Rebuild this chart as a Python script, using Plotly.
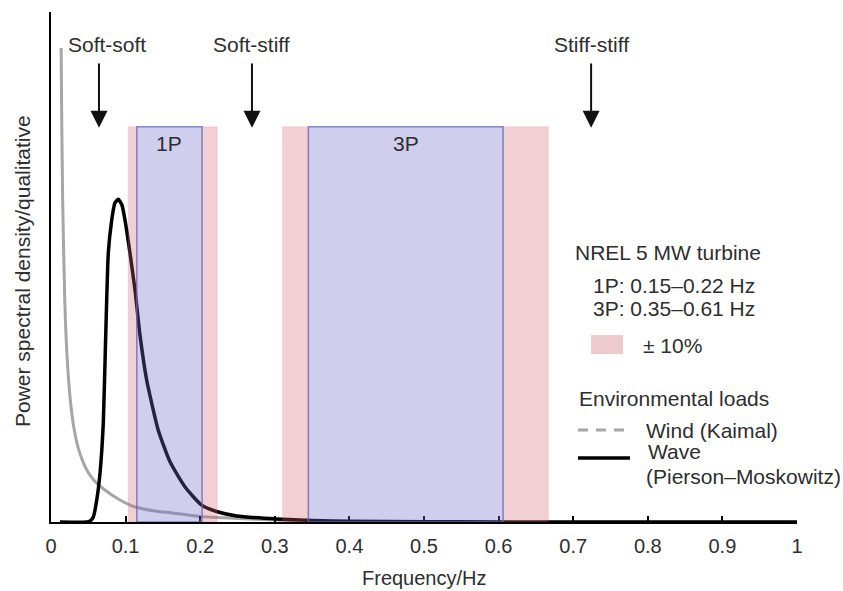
import plotly.graph_objects as go

# ---- data ----
wind_f = [0.01362, 0.01414, 0.01563, 0.01845, 0.02107, 0.02587, 0.03123, 0.03727, 0.04799,
          0.05724, 0.07225, 0.0925, 0.1126, 0.1394, 0.1635, 0.2, 0.2493, 0.3003, 0.35, 0.4]
wind_v = [0.9294, 0.8275, 0.6314, 0.4353, 0.3373, 0.2392, 0.1804, 0.1412, 0.1020,
          0.0824, 0.0627, 0.0431, 0.0294, 0.0216, 0.0176, 0.0108, 0.0069, 0.0039, 0.002, 0.001]

wave_f = [0.012, 0.048, 0.0523, 0.0567, 0.0613, 0.0657, 0.0701, 0.073, 0.0768, 0.0814,
          0.0855, 0.0902, 0.095, 0.0992, 0.1059, 0.1126, 0.119, 0.1283, 0.1438, 0.1595,
          0.18, 0.202, 0.2243, 0.2489, 0.3025, 0.35, 0.4, 0.5, 0.6, 0.7, 1.0]
wave_v = [0, 0, 0.002, 0.0098, 0.043, 0.096, 0.194, 0.347, 0.527, 0.592,
          0.625, 0.633, 0.622, 0.592, 0.527, 0.455, 0.37, 0.278, 0.18, 0.118,
          0.068, 0.033, 0.0196, 0.0118, 0.0059, 0.003, 0.0015, 0.0005, 0.0002, 0, 0]

band_names = ["1P", "3P"]
band_lo = [0.115, 0.345]     # Hz
band_hi = [0.2025, 0.606]    # Hz
margin_frac = 0.10           # ± 10 %
band_top = 0.775

x_ticks = [0, 0.1, 0.2, 0.3, 0.4, 0.5, 0.6, 0.7, 0.8, 0.9, 1.0]
x_tick_text = ["0", "0.1", "0.2", "0.3", "0.4", "0.5", "0.6", "0.7", "0.8", "0.9", "1"]

regions = ["Soft-soft", "Soft-stiff", "Stiff-stiff"]
region_arrow_f = [0.0643, 0.2694, 0.724]
region_text_f = [0.075, 0.2694, 0.724]

TXT = "#2e2e2e"
FONT = "Liberation Sans, Arial, sans-serif"
FS = 21

fig = go.Figure()
fig.add_trace(go.Scatter(x=wind_f, y=wind_v, mode="lines",
                         line=dict(color="#a6a6a6", width=3, shape="spline", smoothing=0.6),
                         showlegend=False, hoverinfo="skip"))
fig.add_trace(go.Scatter(x=wave_f, y=wave_v, mode="lines",
                         line=dict(color="#000000", width=3.5, shape="spline", smoothing=0.5),
                         showlegend=False, hoverinfo="skip"))

shapes = []
for lo, hi in zip(band_lo, band_hi):
    rlo, rhi = lo * (1 - margin_frac), hi * (1 + margin_frac)
    for a, b in [(rlo, lo), (hi, rhi)]:
        shapes.append(dict(type="rect", xref="x", yref="y", x0=a, x1=b, y0=0, y1=band_top,
                           fillcolor="rgba(212,95,105,0.30)",
                           line=dict(color="rgba(212,95,105,0.15)", width=1), layer="above"))
    shapes.append(dict(type="rect", xref="x", yref="y", x0=lo, x1=hi, y0=0, y1=band_top,
                       fillcolor="rgba(110,110,200,0.33)",
                       line=dict(color="rgba(100,100,185,0.75)", width=1.5), layer="above"))

# legend swatch for ±10 %
shapes.append(dict(type="rect", xref="x", yref="y", x0=0.7239, x1=0.7668, y0=0.3294, y1=0.3667,
                   fillcolor="#efcacd", line=dict(width=0)))

annotations = []
for name, lo, hi in zip(band_names, band_lo, band_hi):
    annotations.append(dict(x=(lo + hi) / 2, y=0.743, text=name,
                            showarrow=False, font=dict(size=FS, color=TXT, family=FONT)))

for name, af, tf in zip(regions, region_arrow_f, region_text_f):
    annotations.append(dict(x=tf, y=0.937, text=name, showarrow=False,
                            font=dict(size=FS, color=TXT, family=FONT)))
    annotations.append(dict(x=af, y=0.773, ax=af, ay=0.902, axref="x", ayref="y",
                            xref="x", yref="y", text="", showarrow=True,
                            arrowhead=2, arrowsize=1.7, arrowwidth=2, arrowcolor="#111111"))

legend_texts = [
    ("NREL 5 MW turbine", 0.6997, 0.5275),
    ("1P: 0.15\u20130.22 Hz", 0.7239, 0.4647),
    ("3P: 0.35\u20130.61 Hz", 0.7239, 0.4196),
    ("\u00b1 10%", 0.7909, 0.347),
    ("Environmental loads", 0.7051, 0.2412),
    ("Wind (Kaimal)", 0.7949, 0.1804),
    ("Wave", 0.7976, 0.139),
    ("(Pierson\u2013Moskowitz)", 0.7949, 0.0902),
]
for t, x, y in legend_texts:
    annotations.append(dict(x=x, y=y, text=t, showarrow=False, xanchor="left",
                            font=dict(size=FS, color=TXT, family=FONT)))

# legend line samples
fig.add_trace(go.Scatter(x=[0.7064, 0.7761], y=[0.1804, 0.1804], mode="lines",
                         line=dict(color="#a6a6a6", width=3, dash="10px,8px"),
                         showlegend=False, hoverinfo="skip"))
fig.add_trace(go.Scatter(x=[0.7064, 0.7761], y=[0.1255, 0.1255], mode="lines",
                         line=dict(color="#000000", width=3.5),
                         showlegend=False, hoverinfo="skip"))

annotations.append(dict(xref="paper", yref="paper", x=0.5, y=-0.11, yanchor="middle",
                        xanchor="center", text="Frequency/Hz",
                        showarrow=False, font=dict(size=FS - 1, color=TXT, family=FONT)))
annotations.append(dict(xref="paper", yref="paper", x=-0.0389, y=0.492, xanchor="center",
                        yanchor="middle", text="Power spectral density/qualitative", textangle=-90,
                        showarrow=False, font=dict(size=FS, color=TXT, family=FONT)))

fig.update_layout(
    width=843, height=591, margin=dict(l=51, r=46, t=12, b=69),
    paper_bgcolor="white", plot_bgcolor="white",
    shapes=shapes, annotations=annotations, showlegend=False,
    xaxis=dict(range=[0, 1], showgrid=False, zeroline=False, showline=True,
               linecolor="#000000", linewidth=2, ticks="inside", ticklen=6, tickwidth=1.5,
               tickcolor="#000000", tickvals=x_ticks, ticktext=x_tick_text,
               ticklabelstandoff=5,
               tickfont=dict(size=20, color=TXT, family=FONT)),
    yaxis=dict(range=[0, 1], showgrid=False, zeroline=False, showline=True,
               linecolor="#000000", linewidth=2, showticklabels=False, ticks=""),
)

fig.write_html("out.html")
